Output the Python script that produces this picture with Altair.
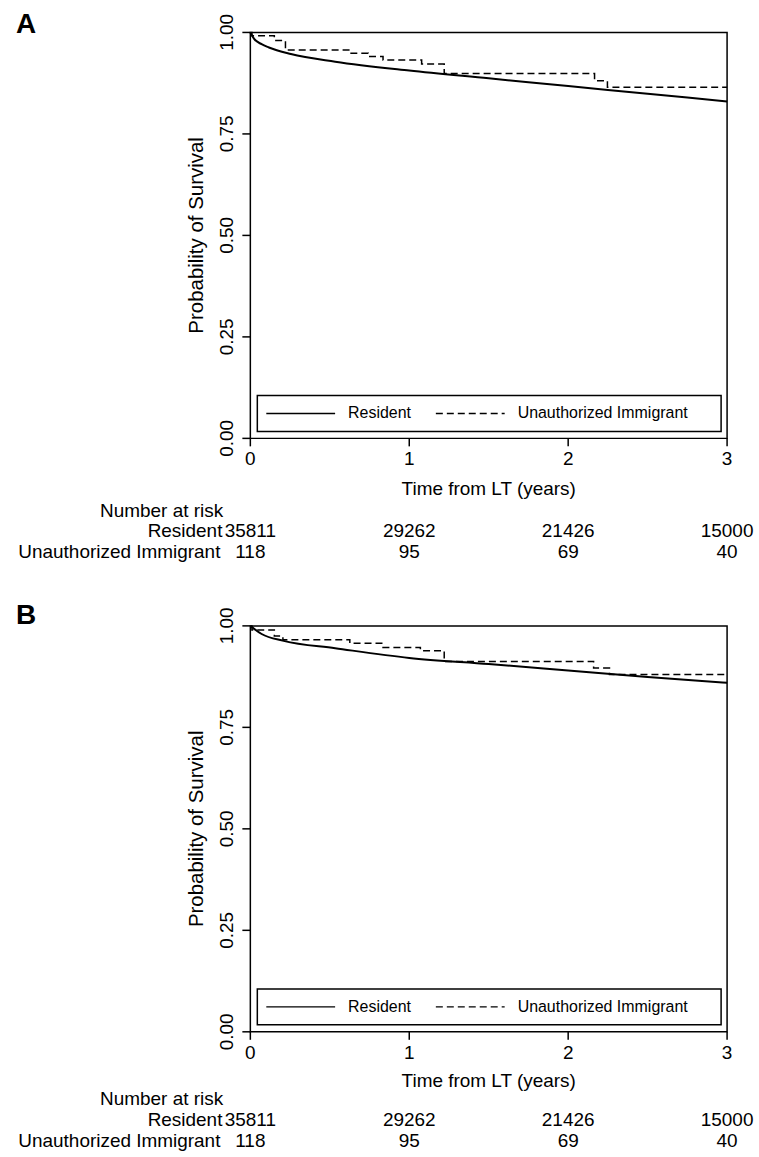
import altair as alt
import pandas as pd

FONT = "Liberation Sans"

x_ticks = [0, 1, 2, 3]
y_ticks = [0.0, 0.25, 0.5, 0.75, 1.0]

risk_res = [35811, 29262, 21426, 15000]
risk_imm = [118, 95, 69, 40]

# Panel A
a_res_t = [0, 0.024, 0.071, 0.117, 0.255, 0.534, 1.0, 1.5, 2.0, 2.5, 3.0]
a_res_s = [1.0, 0.984, 0.971, 0.963, 0.947, 0.928, 0.906, 0.887, 0.868, 0.849, 0.830]
a_imm_t = [0, 0.01, 0.151, 0.221, 0.626, 0.742, 0.835, 1.078, 1.22, 2.166, 2.247, 3.0]
a_imm_s = [1.0, 0.992, 0.980, 0.957, 0.949, 0.941, 0.932, 0.922, 0.899, 0.881, 0.865, 0.865]

# Panel B
b_res_t = [0, 0.071, 0.21, 0.534, 1.0, 1.5, 2.0, 2.5, 3.0]
b_res_s = [1.0, 0.980, 0.963, 0.945, 0.921, 0.906, 0.890, 0.874, 0.860]
b_imm_t = [0, 0.01, 0.151, 0.205, 0.626, 0.835, 1.07, 1.22, 2.16, 2.26, 3.0]
b_imm_s = [1.0, 0.990, 0.975, 0.966, 0.957, 0.947, 0.939, 0.912, 0.896, 0.880, 0.880]

W, H = 478, 407

xs = alt.Scale(domain=[0, 3], nice=False)
ys = alt.Scale(domain=[0, 1], nice=False)

one = pd.DataFrame({"k": [0]})
xt_df = pd.DataFrame({"t": x_ticks})
yt_df = pd.DataFrame({"v": y_ticks})


def txt(text, x, y, size=19, align="center", angle=0, weight="normal"):
    return alt.Chart(one).mark_text(
        font=FONT, fontSize=size, align=align, baseline="middle",
        angle=angle, fontWeight=weight, color="black").encode(
        x=alt.value(x), y=alt.value(y), text=alt.value(text))


def panel(letter, res_t, res_s, imm_t, imm_s, top_off, bottom_ext, rows):
    res_df = pd.DataFrame({"t": res_t, "S": res_s})
    imm_df = pd.DataFrame({"t": imm_t, "S": imm_s})
    risk_df = pd.DataFrame({"t": x_ticks, "res": risk_res, "imm": risk_imm})

    X = alt.X("t:Q", scale=xs, axis=None)
    Y = alt.Y("S:Q", scale=ys, axis=None)

    bounds = alt.Chart(one).mark_rect(opacity=0).encode(
        x=alt.value(-250), x2=alt.value(509),
        y=alt.value(-top_off), y2=alt.value(bottom_ext))

    res_line = alt.Chart(res_df).mark_line(
        color="black", strokeWidth=2, interpolate="monotone").encode(x=X, y=Y)
    imm_line = alt.Chart(imm_df).mark_line(
        color="black", strokeWidth=1.5, strokeDash=[7, 4],
        interpolate="step-after").encode(x=X, y=Y)

    # axes drawn by hand from the tick lists
    xtick = alt.Chart(xt_df).mark_rule(color="black", strokeWidth=1.5).encode(
        x=X, y=alt.value(H), y2=alt.value(H + 8))
    xlab = alt.Chart(xt_df).mark_text(
        font=FONT, fontSize=19, baseline="middle", color="black").encode(
        x=X, y=alt.value(H + 21), text=alt.Text("t:Q", format="d"))
    ytick = alt.Chart(yt_df).mark_rule(color="black", strokeWidth=1.5).encode(
        y=alt.Y("v:Q", scale=ys, axis=None), x=alt.value(-8), x2=alt.value(0))
    ylab = alt.Chart(yt_df).mark_text(
        font=FONT, fontSize=19, baseline="middle", angle=270,
        color="black").encode(
        y=alt.Y("v:Q", scale=ys, axis=None), x=alt.value(-23),
        text=alt.Text("v:Q", format=".2f"))
    ytitle = txt("Probability of Survival", -53, H / 2, size=20.5, angle=270)
    xtitle = txt("Time from LT (years)", W / 2, H + rows[0], size=19)

    leg_box = alt.Chart(one).mark_rect(
        filled=False, stroke="black", strokeWidth=1.5).encode(
        x=alt.value(7), x2=alt.value(472), y=alt.value(364), y2=alt.value(400))
    leg_solid = alt.Chart(one).mark_rule(color="black", strokeWidth=1.5).encode(
        x=alt.value(16), x2=alt.value(85), y=alt.value(382))
    leg_dash = alt.Chart(one).mark_rule(
        color="black", strokeWidth=1.5, strokeDash=[7, 4]).encode(
        x=alt.value(186), x2=alt.value(255), y=alt.value(382))
    leg_t1 = txt("Resident", 98, 382, size=16, align="left")
    leg_t2 = txt("Unauthorized Immigrant", 268, 382, size=16, align="left")

    letter_t = txt(letter, -235, -top_off + 23, size=28, align="left",
                   weight="bold")

    nar = txt("Number at risk", -89, H + rows[1])
    lab_res = txt("Resident", -28, H + rows[2], align="right")
    lab_imm = txt("Unauthorized Immigrant", -30, H + rows[3], align="right")
    num_res = alt.Chart(risk_df).mark_text(
        font=FONT, fontSize=19, baseline="middle", color="black").encode(
        x=X, y=alt.value(H + rows[2]), text=alt.Text("res:Q", format="d"))
    num_imm = alt.Chart(risk_df).mark_text(
        font=FONT, fontSize=19, baseline="middle", color="black").encode(
        x=X, y=alt.value(H + rows[3]), text=alt.Text("imm:Q", format="d"))

    return alt.layer(bounds, res_line, imm_line, xtick, xlab, ytick, ylab,
                     ytitle, xtitle, leg_box, leg_solid, leg_dash,
                     leg_t1, leg_t2, letter_t, nar, lab_res, lab_imm,
                     num_res, num_imm).properties(width=W, height=H)


pA = panel("A", a_res_t, a_res_s, a_imm_t, a_imm_s, 30, 560,
           [51, 73, 93, 114])
pB = panel("B", b_res_t, b_res_s, b_imm_t, b_imm_s, 33, 534,
           [49, 67, 88, 109])

chart = alt.vconcat(pA, pB, spacing=0).properties(
    padding=0, background="white"
).configure_view(
    stroke="black", strokeWidth=1.5
)

chart.save("out.html", embed_options={"renderer": "svg", "actions": False})
